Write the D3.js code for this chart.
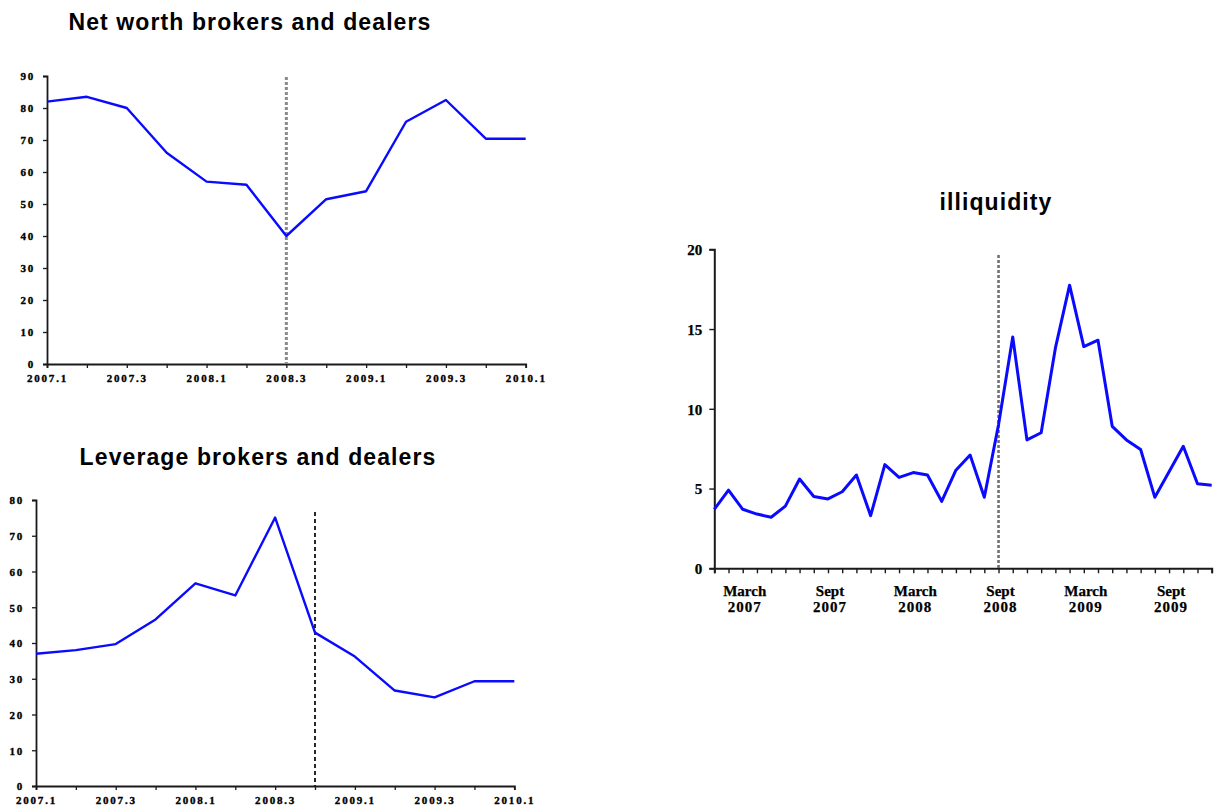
<!DOCTYPE html>
<html><head><meta charset="utf-8">
<script src="https://cdn.jsdelivr.net/npm/d3@7"></script>
<style>body{margin:0;background:#fff}</style>
</head><body>
<svg id="c" width="1214" height="812"></svg>
<script>
// ---------- data ----------
const quarters = ["2007.1","2007.2","2007.3","2007.4","2008.1","2008.2","2008.3","2008.4","2009.1","2009.2","2009.3","2009.4","2010.1"];
const netWorth = [82, 83.5, 80, 66, 57, 56, 40, 51.5, 54, 75.7, 82.5, 70.4, 70.4];
const leverage = [37, 38, 39.7, 46.6, 56.7, 53.3, 75.1, 42.9, 36.2, 26.7, 24.8, 29.3, 29.3];
const netWorthTicks = [0,10,20,30,40,50,60,70,80,90];
const leverageTicks = [0,10,20,30,40,50,60,70,80];
const quarterLabels = ["2007.1","2007.3","2008.1","2008.3","2009.1","2009.3","2010.1"];
const netWorthEvent = "2008.3";
const leverageEvent = "2008.4";

const months = ["2007-01","2007-02","2007-03","2007-04","2007-05","2007-06","2007-07","2007-08","2007-09","2007-10","2007-11","2007-12",
                "2008-01","2008-02","2008-03","2008-04","2008-05","2008-06","2008-07","2008-08","2008-09","2008-10","2008-11","2008-12",
                "2009-01","2009-02","2009-03","2009-04","2009-05","2009-06","2009-07","2009-08","2009-09","2009-10","2009-11","2009-12"];
const illiquidity = [3.7, 4.9, 3.7, 3.4, 3.2, 3.9, 5.6, 4.5, 4.35, 4.8, 5.85, 3.3,
                     6.5, 5.7, 6.0, 5.85, 4.2, 6.15, 7.1, 4.45, 9.0, 14.5, 8.05, 8.5,
                     13.8, 17.75, 13.9, 14.3, 8.9, 8.05, 7.45, 4.45, 6.05, 7.65, 5.3, 5.2];
const illiqTicks = [0,5,10,15,20];
const monthLabelKeys = ["2007-03","2007-09","2008-03","2008-09","2009-03","2009-09"];
const monthLabelTop = ["March","Sept","March","Sept","March","Sept"];
const monthLabelYear = ["2007","2007","2008","2008","2009","2009"];
const illiqEvent = "2008-09";

// ---------- drawing ----------
const svg = d3.select("#c");
const BLUE = "#0a0aff";
const AX = "#1a1a1a";
const SERIF = "'Liberation Serif','Times New Roman',serif";
const SANS = "'Liberation Sans',Arial,sans-serif";

function smallChart(cfg) {
  const x = d3.scalePoint().domain(quarters).range([cfg.x0, cfg.x1]).padding(0);
  const y = d3.scaleLinear().domain([0, cfg.ymax]).range([cfg.yb, cfg.yt]);
  const g = svg.append("g");

  // title
  g.append("text").attr("x", cfg.tx).attr("y", cfg.ty)
    .attr("text-anchor","middle").attr("font-family",SANS).attr("font-weight","bold")
    .attr("font-size",23).attr("letter-spacing","1.1px").attr("fill","#000").text(cfg.title);

  // x axis
  const xa = g.append("g").attr("transform",`translate(0,${cfg.yb})`)
    .call(d3.axisBottom(x).tickValues(quarters).tickSize(4)
      .tickFormat(d => quarterLabels.includes(d) ? d : ""));
  xa.select(".domain").attr("stroke",AX).attr("stroke-width",1.8);
  xa.selectAll(".tick line").attr("stroke",AX).attr("stroke-width",1.3);
  xa.selectAll("text").attr("y",18).attr("dy",null).attr("font-family",SERIF)
    .attr("font-weight","bold").attr("font-size",11).attr("letter-spacing","1.8px")
    .attr("fill","#000").attr("stroke","#000").attr("stroke-width",0.35);

  // y axis
  const ya = g.append("g").attr("transform",`translate(${cfg.x0},0)`)
    .call(d3.axisLeft(y).tickValues(cfg.ticks).tickSize(4).tickPadding(8));
  ya.select(".domain").attr("stroke",AX).attr("stroke-width",1.8);
  ya.selectAll(".tick line").attr("stroke",AX).attr("stroke-width",1.3);
  ya.selectAll("text").attr("font-family",SERIF).attr("font-weight","bold")
    .attr("font-size",11).attr("letter-spacing","1.8px").attr("fill","#000")
    .attr("stroke","#000").attr("stroke-width",0.35).attr("dy","0.35em");

  // event line
  g.append("line").attr("x1",x(cfg.event)).attr("x2",x(cfg.event))
    .attr("y1",cfg.eventTop).attr("y2",cfg.yb)
    .attr("stroke",cfg.eventColor).attr("stroke-width",cfg.eventWidth)
    .attr("stroke-dasharray",cfg.eventDash);

  // series
  g.append("path").datum(cfg.values)
    .attr("d", d3.line().x((d,i)=>x(quarters[i])).y(d=>y(d)))
    .attr("fill","none").attr("stroke",BLUE).attr("stroke-width",2.4).attr("stroke-linejoin","round");
}

smallChart({title:"Net worth brokers and dealers", tx:250, ty:30,
  x0:47, x1:525.7, yt:76, yb:364, ymax:90, ticks:netWorthTicks, values:netWorth,
  event:netWorthEvent, eventTop:77, eventColor:"#8a8a8a", eventWidth:3, eventDash:"3,2"});

smallChart({title:"Leverage brokers and dealers", tx:258, ty:465,
  x0:36, x1:514.3, yt:500, yb:786, ymax:80, ticks:leverageTicks, values:leverage,
  event:leverageEvent, eventTop:512, eventColor:"#111", eventWidth:1.8, eventDash:"4,3"});

// ---------- illiquidity ----------
(function(){
  const x0 = 714.3, x1 = 1211.7, yt = 249.3, yb = 568.3;
  const x = d3.scalePoint().domain(months).range([x0, x1]).padding(0);
  const y = d3.scaleLinear().domain([0,20]).range([yb, yt]);
  const g = svg.append("g");

  g.append("text").attr("x",996).attr("y",210).attr("text-anchor","middle")
    .attr("font-family",SANS).attr("font-weight","bold").attr("font-size",23)
    .attr("letter-spacing","1.1px").attr("fill","#000").text("illiquidity");

  const xa = g.append("g").attr("transform",`translate(0,${yb})`)
    .call(d3.axisBottom(x).tickValues(months).tickSize(5).tickFormat(""));
  xa.select(".domain").attr("stroke",AX).attr("stroke-width",2);
  xa.selectAll(".tick line").attr("stroke",AX).attr("stroke-width",1.4);

  const lbl = g.append("g").attr("font-family",SERIF).attr("font-weight","bold")
    .attr("font-size",15).attr("fill","#000").attr("text-anchor","middle")
    .attr("stroke","#000").attr("stroke-width",0.25);
  monthLabelKeys.forEach((k,i)=>{
    lbl.append("text").attr("x",x(k)+2).attr("y",596).text(monthLabelTop[i]);
    lbl.append("text").attr("x",x(k)+2).attr("y",612).attr("letter-spacing","1px").text(monthLabelYear[i]);
  });

  const ya = g.append("g").attr("transform",`translate(${x0},0)`)
    .call(d3.axisLeft(y).tickValues(illiqTicks).tickSize(5).tickPadding(7));
  ya.select(".domain").attr("stroke",AX).attr("stroke-width",2);
  ya.selectAll(".tick line").attr("stroke",AX).attr("stroke-width",1.4);
  ya.selectAll("text").attr("font-family",SERIF).attr("font-weight","bold")
    .attr("font-size",15).attr("fill","#000").attr("stroke","#000").attr("stroke-width",0.25)
    .attr("dy","0.35em");

  g.append("line").attr("x1",x(illiqEvent)).attr("x2",x(illiqEvent))
    .attr("y1",255).attr("y2",yb).attr("stroke","#707070")
    .attr("stroke-width",2.6).attr("stroke-dasharray","3,2");

  g.append("path").datum(illiquidity)
    .attr("d", d3.line().x((d,i)=>x(months[i])).y(d=>y(d)))
    .attr("fill","none").attr("stroke",BLUE).attr("stroke-width",3).attr("stroke-linejoin","round");
})();
</script>
</body></html>
